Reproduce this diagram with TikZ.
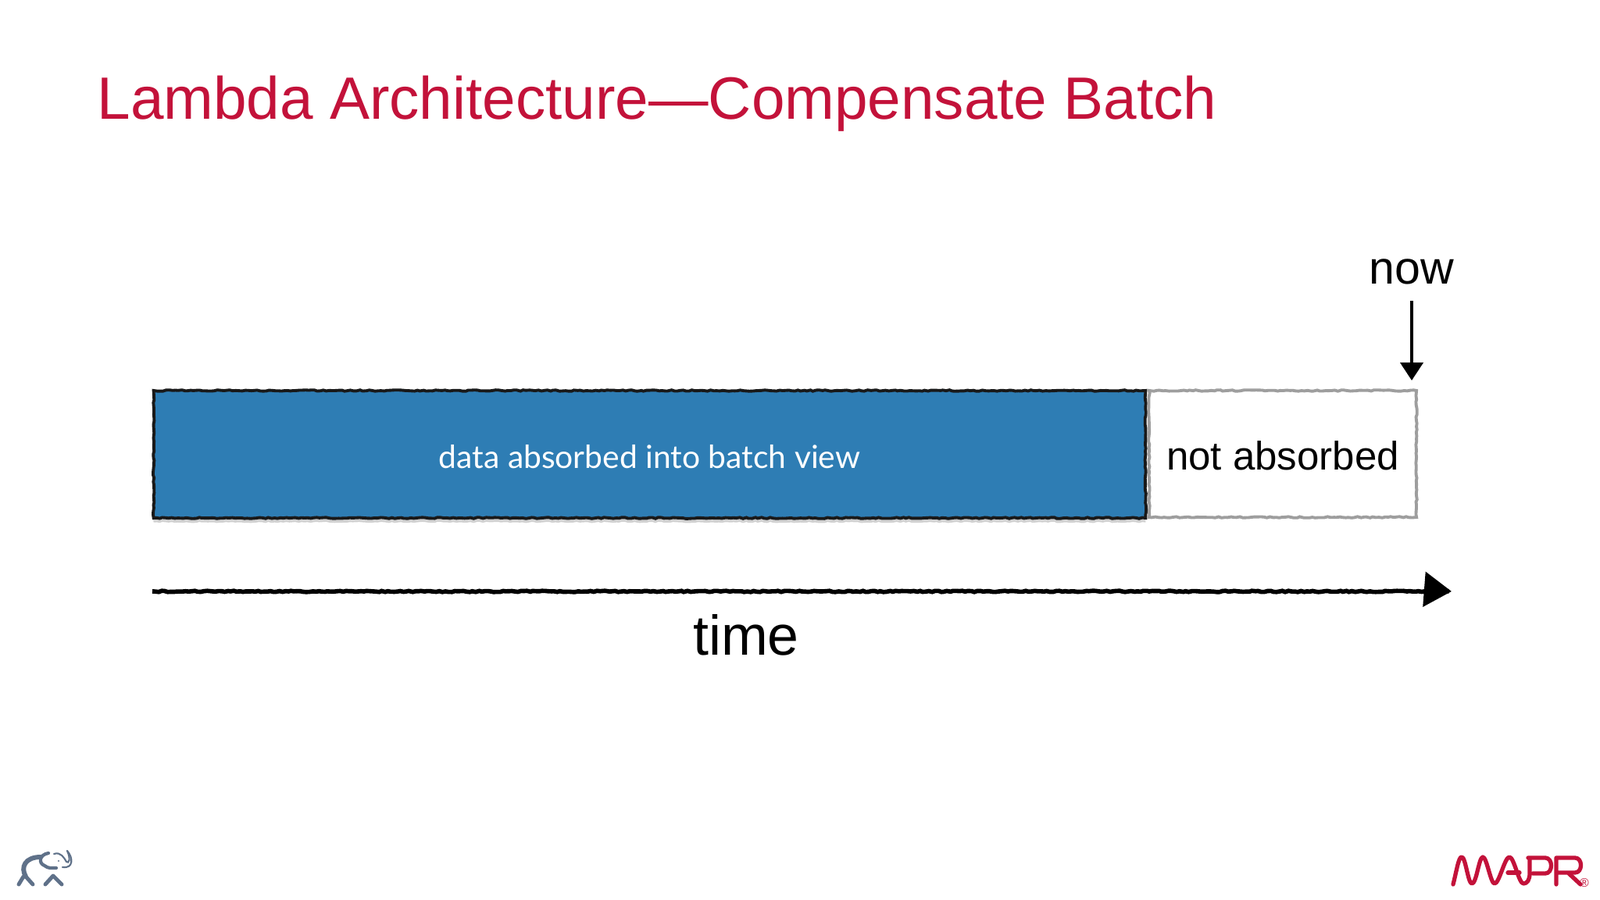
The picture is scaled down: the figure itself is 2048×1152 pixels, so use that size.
\documentclass[tikz,border=0pt]{standalone}
\usepackage{fontspec}
\setmainfont{Liberation Sans}
\newfontfamily\barfont{Lato}
\usetikzlibrary{arrows.meta,decorations.pathmorphing,shadows}
\definecolor{mapred}{HTML}{C3123A}
\definecolor{batchblue}{HTML}{2E7DB4}
\definecolor{elephantgray}{HTML}{5F7189}
\tikzset{
    rough/.style={decorate,decoration={random steps,segment length=1.1pt,amplitude=.22pt}},
    batchbox/.style={draw=black!90,line width=1.1pt,fill=batchblue,rough,text=white,minimum width=12.69cm,minimum height=1.63cm,text height=10.2pt,text depth=0pt,
        drop shadow={shadow xshift=0pt,shadow yshift=-1.6pt,opacity=.35},font=\barfont\fontsize{11.6}{14}\selectfont},
    freebox/.style={draw=black!38,line width=1.1pt,fill=white,rough,minimum width=3.42cm,minimum height=1.62cm,text height=11.6pt,text depth=0pt,font=\fontsize{14.5}{17}\selectfont},
    timeline/.style={line width=1.6pt,rough,-{Triangle[length=10pt,width=12.5pt]}},
    logomark/.style={line cap=round,line join=round,draw=mapred,line width=1.5pt}
}
\begin{document}
\begin{tikzpicture}[x=0.01cm,y=-0.01cm]
    \useasboundingbox[fill=white] (0,0) rectangle (2048,1152);
    \node[anchor=base west,text=mapred,font=\fontsize{21.75}{26}\selectfont,inner sep=0pt] (title) at (124,153) {Lambda Architecture---Compensate Batch};
    \node[batchbox] (batch) at (831.5,581.5) {data absorbed into batch view};
    \node[freebox] (free) at (1642,581) {not absorbed};
    \node[anchor=base,font=\fontsize{16.8}{20}\selectfont,inner sep=0pt] (now) at (1807,364) {now};
    \coordinate (nowtip) at (1807,487);
    \draw[line width=1.2pt,-{Triangle[length=6.5pt,width=8.2pt]}] (now.south) ++(0,20) -- (nowtip);
    \coordinate (timestart) at (195,757);
    \coordinate (timeend) at (1858,757);
    \draw[timeline] (timestart) -- (timeend);
    \node[anchor=base,font=\fontsize{20.4}{24}\selectfont,inner sep=0pt] (time) at (955,838) {time};
    \draw[logomark] (1860,1132) .. controls (1865,1112) and (1867,1097) .. (1871,1097) .. controls (1876,1097) and (1879,1131) .. (1884,1131)
        .. controls (1890,1131) and (1893,1097) .. (1898,1097) .. controls (1903,1097) and (1908,1131) .. (1913,1131)
        .. controls (1919,1131) and (1926,1097) .. (1932,1097) .. controls (1938,1097) and (1944,1131) .. (1950,1131)
        .. controls (1955,1131) and (1958,1126) .. (1958,1118) -- (1958,1100);
    \draw[logomark] (1930,1117) -- (1945,1117);
    \draw[logomark] (1956,1098) -- (1978,1098) .. controls (1988,1098) and (1988,1118) .. (1978,1118) -- (1962,1118);
    \draw[logomark] (1992,1132) -- (1992,1098) -- (2016,1098) .. controls (2026,1098) and (2026,1117) .. (2016,1117) -- (1994,1117);
    \draw[logomark] (2008,1118) -- (2023,1132);
    \node[text=mapred,font=\fontsize{4.5}{5}\selectfont,inner sep=0pt] (reg) at (2028,1130) {®};
    \draw[elephantgray,line width=1.7pt,line cap=round] (33,1122) .. controls (26,1110) and (32,1097) .. (52,1097);
    \draw[elephantgray,line width=1.4pt,line cap=round] (24,1132) -- (30,1122) (33,1122) -- (42,1132);
    \draw[elephantgray,line width=1.4pt,line cap=round,line join=round] (58,1132) -- (68,1121) -- (79,1132);
    \draw[elephantgray,line width=1.2pt,line cap=round] (62,1092) .. controls (50,1094) and (49,1105) .. (57,1108) .. controls (62,1112) and (66,1111) .. (72,1111);
    \draw[elephantgray,line width=.6pt,line cap=round] (69,1093) .. controls (78,1090) and (82,1098) .. (85,1103) .. controls (88,1106) and (91,1100) .. (86,1089);
    \draw[elephantgray,line width=.6pt,line cap=round] (86,1089) .. controls (94,1098) and (94,1112) .. (80,1110);
    \fill[elephantgray] (75,1102) circle (1.2);
\end{tikzpicture}
\end{document}
